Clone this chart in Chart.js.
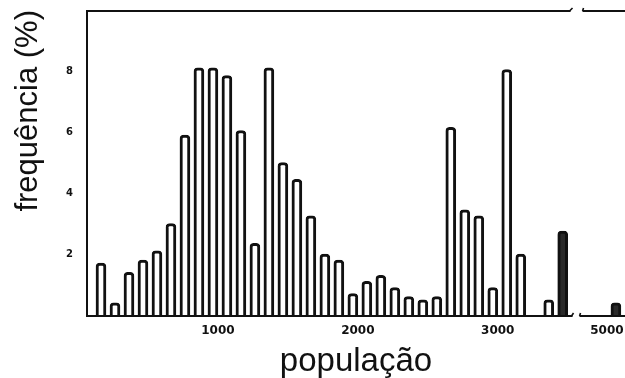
<!DOCTYPE html>
<html>
<head>
<meta charset="utf-8">
<script src="https://cdn.jsdelivr.net/npm/chart.js@4/dist/chart.umd.min.js"></script>
<style>
  html, body { margin: 0; padding: 0; background: #ffffff; }
  #c { display: block; }
</style>
</head>
<body>
<canvas id="c" width="625" height="378"></canvas>
<script>
// ---- data ----
const bins = [100, 200, 300, 400, 500, 600, 700, 800, 900, 1000,
              1100, 1200, 1300, 1400, 1500, 1600, 1700, 1800, 1900, 2000,
              2100, 2200, 2300, 2400, 2500, 2600, 2700, 2800, 2900, 3000,
              3100, 3300, 3400, 5000];
const freqs = [1.7, 0.4, 1.4, 1.8, 2.1, 3.0, 5.9, 8.1, 8.1, 7.85,
               6.05, 2.35, 8.1, 5.0, 4.45, 3.25, 2.0, 1.8, 0.7, 1.1,
               1.3, 0.9, 0.6, 0.5, 0.6, 6.15, 3.45, 3.25, 0.9, 8.05,
               2.0, 0.5, 2.75, 0.4];
const xTickValues = [1000, 2000, 3000, 5000];
const xTickLabels = ['1000', '2000', '3000', '5000'];
const yTickValues = [2, 4, 6, 8];
const yTickLabels = ['2', '4', '6', '8'];
const filledBins = [3400, 5000];

// broken x axis: values beyond the break are drawn shifted left
const breakAfter = 3500;
const breakShift = 1220;
const breakAxisFrom = 3470, breakAxisTo = 3520;
function xPos(v) { return v > breakAfter ? v - breakShift : v; }

const points = bins.map((b, i) => ({ x: xPos(b), y: freqs[i] }));

const ink = '#111111';

const axisLines = {
  id: 'axisLines',
  afterDatasetsDraw(chart) {
    const { ctx, chartArea: a, scales: { x } } = chart;
    const b1 = x.getPixelForValue(breakAxisFrom);
    const b2 = x.getPixelForValue(breakAxisTo);
    const yb = a.bottom + 1, yt = a.top + 1;
    ctx.save();
    ctx.strokeStyle = ink;
    ctx.lineWidth = 2;
    ctx.lineCap = 'butt';
    ctx.beginPath();
    ctx.moveTo(a.left, a.top); ctx.lineTo(a.left, yb + 1);
    ctx.moveTo(a.left - 1, yb); ctx.lineTo(b1, yb);
    ctx.moveTo(b2, yb); ctx.lineTo(a.right, yb);
    ctx.moveTo(a.left - 1, yt); ctx.lineTo(b1 - 2, yt);
    ctx.moveTo(b2 + 3, yt); ctx.lineTo(a.right, yt);
    ctx.stroke();
    ctx.lineWidth = 1.6;
    ctx.beginPath();
    ctx.moveTo(b1 - 1, yb); ctx.lineTo(b1 + 1, yb - 3);
    ctx.moveTo(b2, yb); ctx.lineTo(b2 + 1, yb - 3);
    ctx.moveTo(b1 - 3, yt); ctx.lineTo(b1, yt - 3);
    ctx.moveTo(b2 + 3, yt); ctx.lineTo(b2 + 4, yt - 3);
    ctx.stroke();
    ctx.restore();
  }
};

new Chart(document.getElementById('c'), {
  type: 'bar',
  data: {
    datasets: [{
      data: points,
      backgroundColor: (c) => filledBins.includes(bins[c.dataIndex]) ? '#2a2a2a' : '#ffffff',
      borderColor: ink,
      borderWidth: 3,
      borderSkipped: 'bottom',
      borderRadius: { topLeft: 4, topRight: 4, bottomLeft: 0, bottomRight: 0 },
      barThickness: 10
    }]
  },
  options: {
    responsive: false,
    animation: false,
    devicePixelRatio: 1,
    layout: { padding: { left: 0, right: 0, top: 10, bottom: 0 } },
    plugins: { legend: { display: false }, tooltip: { enabled: false } },
    scales: {
      x: {
        type: 'linear',
        offset: false,
        min: 0,
        max: 3845,
        grid: { display: false, drawTicks: false, offset: false },
        border: { display: false },
        afterBuildTicks: (s) => { s.ticks = xTickValues.map(v => ({ value: xPos(v) })); },
        afterFit: (s) => { s.height = 63; s.paddingLeft = 0; s.paddingRight = 0; },
        ticks: {
          autoSkip: false,
          maxRotation: 0,
          padding: 9,
          labelOffset: -9,
          color: ink,
          font: { family: 'DejaVu Sans', size: 12, weight: 'bold' },
          callback: (v, i) => xTickLabels[i]
        },
        title: {
          display: true,
          text: 'população',
          color: ink,
          padding: { top: 1, bottom: 0 },
          font: { family: 'Liberation Sans', size: 33, weight: 'normal', lineHeight: 1.0 }
        }
      },
      y: {
        min: 0,
        max: 10,
        grid: { display: false, drawTicks: false },
        border: { display: false },
        afterBuildTicks: (s) => { s.ticks = yTickValues.map(v => ({ value: v })); },
        afterFit: (s) => { s.width = 87; s.paddingTop = 0; s.paddingBottom = 0; },
        ticks: {
          padding: 14,
          color: ink,
          font: { family: 'DejaVu Sans', size: 10, weight: 'bold' },
          callback: (v, i) => yTickLabels[i]
        },
        title: {
          display: true,
          text: 'frequência (%)',
          align: 'end',
          color: ink,
          padding: { top: 10, bottom: 0 },
          font: { family: 'Liberation Sans', size: 31, weight: 'normal' }
        }
      }
    }
  },
  plugins: [axisLines]
});
</script>
</body>
</html>
